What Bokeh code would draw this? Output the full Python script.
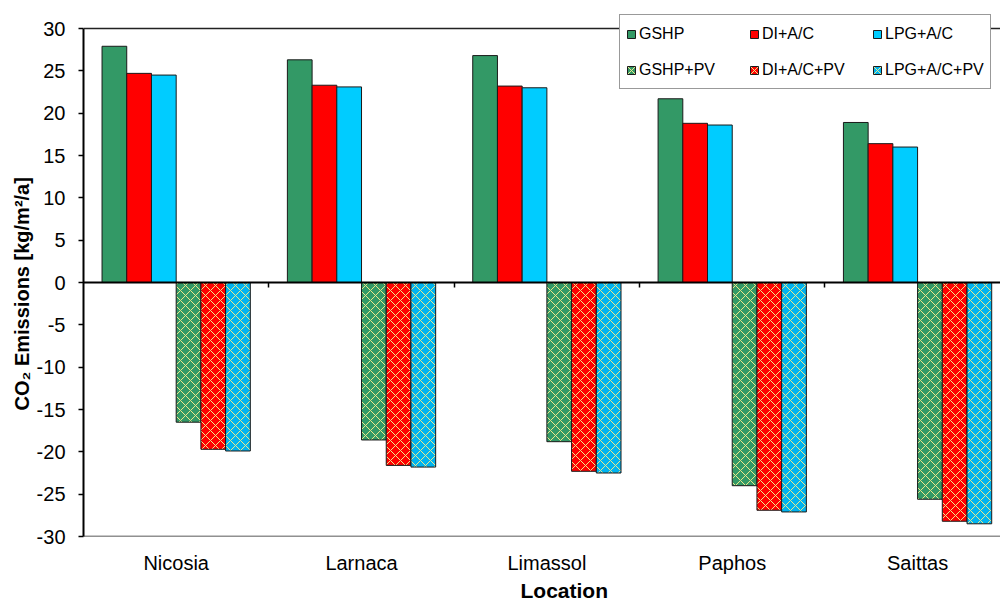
import numpy as np
from bokeh.plotting import figure
from bokeh.models import (ColumnDataSource, Range1d, LinearAxis, FixedTicker, Legend,
                          LegendItem, Span, Title, CustomJSTickFormatter)
from bokeh.embed import file_html
from bokeh.resources import INLINE

# ---- data ----
locations = ["Nicosia", "Larnaca", "Limassol", "Paphos", "Saittas"]
series_names = ["GSHP", "DI+A/C", "LPG+A/C", "GSHP+PV", "DI+A/C+PV", "LPG+A/C+PV"]
gshp = [27.9, 26.3, 26.8, 21.7, 18.9]
di_ac = [24.7, 23.3, 23.2, 18.8, 16.4]
lpg_ac = [24.5, 23.1, 23.0, 18.6, 16.0]
gshp_pv = [-16.5, -18.6, -18.8, -24.0, -25.6]
di_ac_pv = [-19.7, -21.6, -22.3, -26.9, -28.2]
lpg_ac_pv = [-19.9, -21.8, -22.5, -27.1, -28.5]
y_ticks = [-30, -25, -20, -15, -10, -5, 0, 5, 10, 15, 20, 25, 30]

values = [gshp, di_ac, lpg_ac, gshp_pv, di_ac_pv, lpg_ac_pv]
colors = ["#339966", "#FF0000", "#00CCFF", "#339966", "#FF0000", "#00B4F0"]
hatched = [False, False, False, True, True, True]

FONT = "Liberation Sans"

# layout (pixels)
W, H = 1000, 602
FRAME_LEFT, FRAME_TOP, FRAME_BOTTOM = 83, 10, 536
AX_TOP_PX = 28  # where the top of the value axis sits
ymin, ymax = y_ticks[0], y_ticks[-1]
px_per_unit = (FRAME_BOTTOM - AX_TOP_PX) / (ymax - ymin)
y_end = ymax + (AX_TOP_PX - FRAME_TOP) / px_per_unit
cat_px = 185.35
x_end = (W - FRAME_LEFT) / cat_px

p = figure(width=W, height=H, output_backend="svg", toolbar_location=None,
           x_range=Range1d(0, x_end), y_range=Range1d(ymin, y_end),
           x_axis_type=None, y_axis_type=None,
           min_border_left=FRAME_LEFT, min_border_right=0,
           min_border_top=FRAME_TOP, min_border_bottom=H - FRAME_BOTTOM)
p.background_fill_color = "white"
p.border_fill_color = "white"
p.outline_line_color = None

# y axis
yax = LinearAxis(ticker=FixedTicker(ticks=y_ticks), bounds=(ymin, ymax))
yax.major_label_overrides = {t: str(t) for t in y_ticks}
yax.axis_line_width = 2
yax.axis_line_color = "black"
yax.major_tick_in = 0
yax.major_tick_out = 5
yax.major_tick_line_width = 1.5
yax.minor_tick_line_color = None
yax.major_label_text_font = FONT
yax.major_label_text_font_size = "20px"
yax.major_label_text_color = "black"
yax.major_label_standoff = 13
p.add_layout(yax, "left")

ytitle = Title(text="CO\u2082 Emissions [kg/m\u00b2/a]", align="left", offset=126,
               text_font=FONT, text_font_style="bold", text_font_size="20px",
               text_color="black", standoff=2)
p.add_layout(ytitle, "left")

# zero axis with category boundary ticks
n = len(locations)
zax = LinearAxis(ticker=FixedTicker(ticks=list(range(1, n))), fixed_location=0)
zax.axis_line_width = 2
zax.axis_line_color = "black"
zax.major_tick_in = 0
zax.major_tick_out = 5
zax.major_tick_line_width = 1.5
zax.minor_tick_line_color = None
zax.formatter = CustomJSTickFormatter(code="return ''")
zax.major_label_standoff = 0
p.add_layout(zax, "below")

# category label axis at the bottom
cax = LinearAxis(ticker=FixedTicker(ticks=[i + 0.5 for i in range(n)]))
cax.major_label_overrides = {i + 0.5: loc for i, loc in enumerate(locations)}
cax.axis_line_color = None
cax.major_tick_line_color = None
cax.minor_tick_line_color = None
cax.major_label_text_font = FONT
cax.major_label_text_font_size = "20px"
cax.major_label_text_color = "black"
cax.major_label_standoff = 9
p.add_layout(cax, "below")

xtitle = Title(text="Location", align="left", offset=437,
               text_font=FONT, text_font_style="bold", text_font_size="21px",
               text_color="black", standoff=0)
p.add_layout(xtitle, "below")

# grid (inner dotted lines) and solid top / bottom borders
p.ygrid.ticker = FixedTicker(ticks=y_ticks[1:-1])
p.ygrid.grid_line_color = "#444444"
p.ygrid.grid_line_dash = "1 1"
p.ygrid.grid_line_width = 1
for yb in (ymin, ymax):
    p.add_layout(Span(location=yb, dimension="width", line_color="#222222", line_width=1.5))

# bars
nser = len(values)
bw = 0.8 / nser
items = []
idx = np.arange(n)
for j, (name, vals, col, h) in enumerate(zip(series_names, values, colors, hatched)):
    src = ColumnDataSource(dict(x=idx + 0.1 + bw * (j + 0.5), top=vals, loc=locations))
    kw = dict(x="x", top="top", bottom=0, width=bw, source=src,
              fill_color=col, line_color="#1a1a1a", line_width=1)
    if h:
        kw.update(hatch_pattern="diagonal_cross", hatch_color="#EEE88A",
                  hatch_scale=10, hatch_weight=1)
    r = p.vbar(**kw)
    items.append(LegendItem(label=name, renderers=[r]))

legend = Legend(items=items, orientation="horizontal", ncols=3,
                location=(536, 447))
legend.label_text_font = FONT
legend.label_text_font_size = "16px"
legend.label_text_color = "black"
legend.glyph_width = 10
legend.glyph_height = 10
legend.label_standoff = 3
legend.label_width = 99
legend.label_height = 25
legend.spacing = 11
legend.padding = 6
legend.margin = 0
legend.border_line_color = "#333333"
legend.border_line_width = 1
legend.background_fill_color = "white"
legend.background_fill_alpha = 1
p.add_layout(legend, "center")

open("out.html", "w").write(file_html(p, INLINE))
